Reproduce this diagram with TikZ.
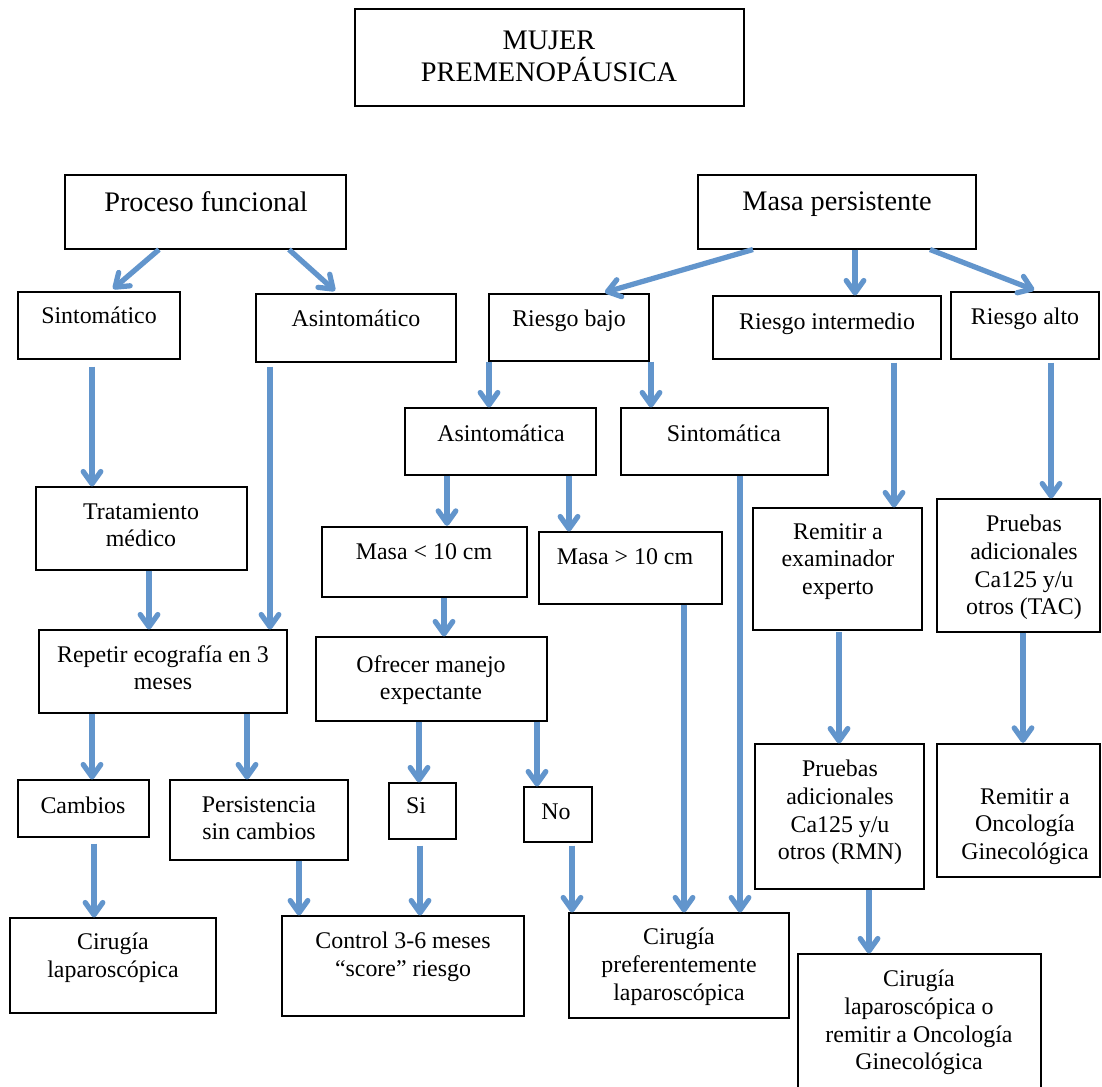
\documentclass[tikz,border=0pt]{standalone}
\usepackage{fontspec}
\setmainfont{Liberation Serif}
\usetikzlibrary{arrows.meta,fit}
\definecolor{flechaazul}{RGB}{98,149,204}

\begin{document}
\begin{tikzpicture}[x=0.02cm, y=-0.02cm,
  caja/.style={draw=black, line width=0.6pt, inner sep=0pt},
  cajag/.style={caja, line width=1.3pt},
  txt/.style={anchor=north, align=center, inner sep=0pt,
              font=\fontsize{13.6}{15.7}\selectfont},
  tit/.style={txt, font=\fontsize{16.1}{18.1}\selectfont},
  flecha/.style={draw=flechaazul, line width=3pt,
                 -{Straight Barb[length=7pt, width=10pt, round]}},
]
\useasboundingbox (0,0) rectangle (1102,1086);
% ---- cajas (esquinas en px de la figura)
\node[caja, fit={(355,9) (744,106)}] (mujer) {};
\node[caja, fit={(65,175) (346,249)}] (pf) {};
\node[caja, fit={(698,175) (976,249)}] (mp) {};
\node[caja, fit={(18,292) (180,359)}] (sint) {};
\node[caja, fit={(256,294) (456,362)}] (asint) {};
\node[caja, fit={(489,294) (649,361)}] (rb) {};
\node[caja, fit={(713,296) (941,359)}] (ri) {};
\node[caja, fit={(951,292) (1099,359)}] (ra) {};
\node[caja, fit={(405,408) (596,475)}] (asinta) {};
\node[caja, fit={(621,408) (828,475)}] (sintca) {};
\node[caja, fit={(36,487) (247,570)}] (trat) {};
\node[caja, fit={(39,630) (287,713)}] (rep) {};
\node[cajag, fit={(322,527) (527,597)}] (menor) {};
\node[caja, fit={(539,532) (722,604)}] (mayor) {};
\node[caja, fit={(316,637) (547,721)}] (ofr) {};
\node[caja, fit={(753,508) (922,630)}] (rex) {};
\node[caja, fit={(937,499) (1100,632)}] (tac) {};
\node[caja, fit={(18,780) (149,837)}] (camb) {};
\node[caja, fit={(170,780) (348,860)}] (pers) {};
\node[caja, fit={(389,783) (456,839)}] (si) {};
\node[caja, fit={(524,787) (592,842)}] (no) {};
\node[caja, fit={(755,744) (924,889)}] (rmn) {};
\node[cajag, fit={(937,744) (1100,877)}] (onc) {};
\node[caja, fit={(10,918) (216,1013)}] (cirlap) {};
\node[caja, fit={(282,916) (524,1016)}] (ctrl) {};
\node[caja, fit={(569,913) (789,1018)}] (cirpref) {};
\node[caja, fit={(798,954) (1041,1096)}] (fin) {};
% ---- textos, alineados arriba como en el original
\node[tit] (mujer-t) at (549,31) {MUJER\\PREMENOPÁUSICA};
\node[tit] (pf-t) at (206,191) {Proceso funcional};
\node[tit] (mp-t) at (837,191) {Masa persistente};
\node[txt] (sint-t) at (99,307) {Sintomático};
\node[txt] (asint-t) at (356,310) {Asintomático};
\node[txt] (rb-t) at (569,310) {Riesgo bajo};
\node[txt] (ri-t) at (827,313) {Riesgo intermedio};
\node[txt] (ra-t) at (1025,308) {Riesgo alto};
\node[txt] (asinta-t) at (501,425) {Asintomática};
\node[txt] (sintca-t) at (724,425) {Sintomática};
\node[txt] (trat-t) at (141,503) {Tratamiento\\médico};
\node[txt] (rep-t) at (163,645) {Repetir ecografía en 3\\meses};
\node[txt] (menor-t) at (424,543) {Masa < 10 cm};
\node[txt] (mayor-t) at (625,548) {Masa > 10 cm};
\node[txt] (ofr-t) at (431,655) {Ofrecer manejo\\expectante};
\node[txt] (rex-t) at (838,523) {Remitir a\\examinador\\experto};
\node[txt] (tac-t) at (1024,515) {Pruebas\\adicionales\\Ca125 y/u\\otros (TAC)};
\node[txt] (camb-t) at (83,797) {Cambios};
\node[txt] (pers-t) at (259,796) {Persistencia\\sin cambios};
\node[txt] (si-t) at (416,797) {Si};
\node[txt] (no-t) at (556,803) {No};
\node[txt] (rmn-t) at (840,760) {Pruebas\\adicionales\\Ca125 y/u\\otros (RMN)};
\node[txt] (onc-t) at (1025,788) {Remitir a\\Oncología\\Ginecológica};
\node[txt] (cirlap-t) at (113,933) {Cirugía\\laparoscópica};
\node[txt] (ctrl-t) at (403,932) {Control 3-6 meses\\“score” riesgo};
\node[txt] (cirpref-t) at (679,928) {Cirugía\\preferentemente\\laparoscópica};
\node[txt] (fin-t) at (919,970) {Cirugía\\laparoscópica o\\remitir a Oncología\\Ginecológica};
% ---- flechas inclinadas
\draw[flecha, shorten >=2.3pt] (159,0 |- pf.south) -- (110,0 |- sint.north);
\draw[flecha, shorten >=2.3pt] (289,0 |- pf.south) -- (338,0 |- asint.north);
\draw[flecha, shorten >=2.3pt] (753,0 |- mp.south) -- (601,0 |- rb.north);
\draw[flecha, shorten >=2.3pt] (930,0 |- mp.south) -- (1038,0 |- ra.north);
% ---- flechas verticales: x / desde / hasta / hueco inicial (pt)
\foreach \x/\a/\b/\g in {855/mp/ri/0, 92/sint/trat/4, 270/asint/rep/2.3,
    149/trat/rep/0, 92/rep/camb/0, 247/rep/pers/0, 94/camb/cirlap/3.4,
    299/pers/ctrl/0, 489/rb/asinta/0, 651/rb/sintca/0, 447/asinta/menor/0,
    569/asinta/mayor/0, 444/menor/ofr/0, 419/ofr/si/0, 537/ofr/no/0,
    420/si/ctrl/3.4, 572/no/cirpref/1.7, 684/mayor/cirpref/0,
    740/sintca/cirpref/0.5, 894/ri/rex/1.7, 1051/ra/tac/1.7,
    839/rex/rmn/1, 1023/tac/onc/0, 869/rmn/fin/0} {
  \draw[flecha, shorten <=\g pt] (\x,0 |- \a.south) -- (\x,0 |- \b.north);
}
\end{tikzpicture}
\end{document}
